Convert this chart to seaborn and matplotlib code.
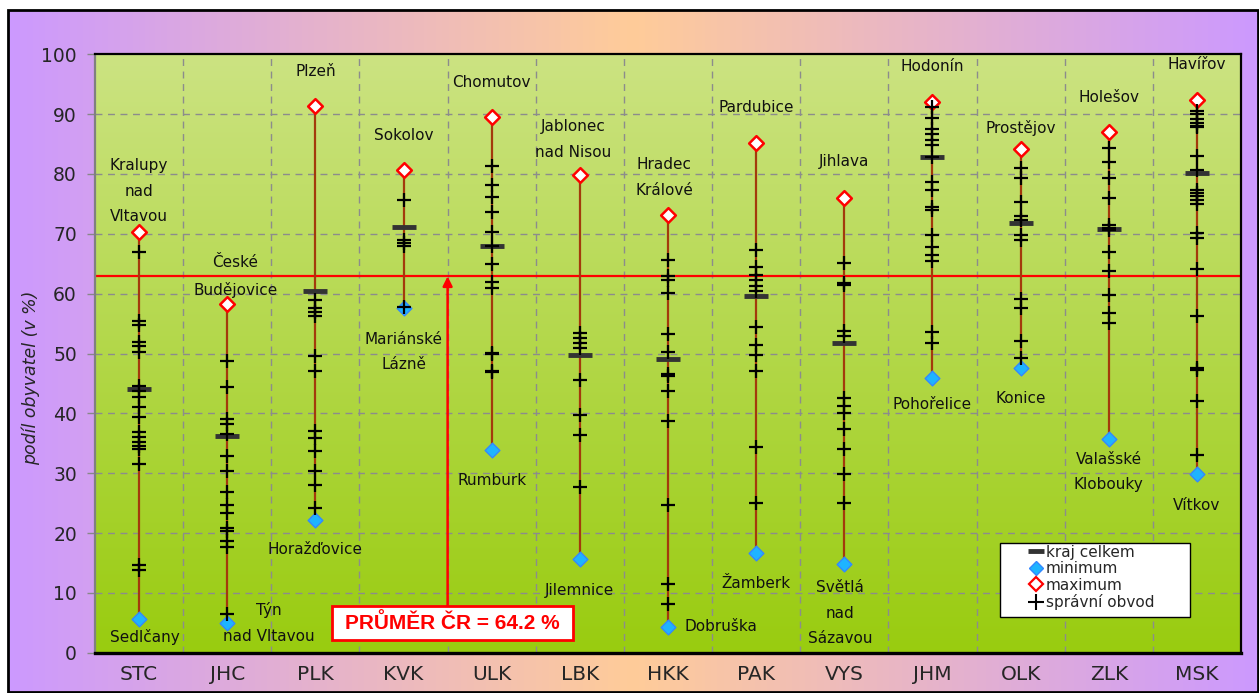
import numpy as np
import pandas as pd
import matplotlib
matplotlib.use('Agg')
import matplotlib.pyplot as plt
import seaborn as sns
from matplotlib.lines import Line2D
from matplotlib.patches import Rectangle

# --- data -------------------------------------------------------------
regions = ['STC', 'JHC', 'PLK', 'KVK', 'ULK', 'LBK', 'HKK', 'PAK', 'VYS', 'JHM', 'OLK', 'ZLK', 'MSK']
kraj_celkem = [44.0, 36.2, 60.4, 71.1, 67.9, 49.8, 49.1, 59.6, 51.7, 82.8, 71.8, 70.8, 80.1]
minimum = [5.6, 4.9, 22.2, 57.6, 33.9, 15.6, 4.3, 16.6, 14.8, 45.9, 47.5, 35.7, 29.8]
maximum = [70.3, 58.2, 91.3, 80.7, 89.5, 79.8, 73.1, 85.1, 76.0, 92.1, 84.1, 87.0, 92.4]
min_names = ['Sedlčany', 'Týn\nnad Vltavou', 'Horažďovice', 'Mariánské\nLázně', 'Rumburk', 'Jilemnice',
             'Dobruška', 'Žamberk', 'Světlá\nnad\nSázavou', 'Pohořelice', 'Konice',
             'Valašské\nKlobouky', 'Vítkov']
max_names = ['Kralupy\nnad\nVltavou', 'České\nBudějovice', 'Plzeň', 'Sokolov', 'Chomutov',
             'Jablonec\nnad Nisou', 'Hradec\nKrálové', 'Pardubice', 'Jihlava', 'Hodonín',
             'Prostějov', 'Holešov', 'Havířov']
prumer_cr = 62.9

# správní obvody
stc = [67.0, 55.5, 54.8, 52.0, 51.2, 50.3, 44.6, 43.8, 42.8, 41.1, 39.4, 36.9, 36.1, 35.2, 34.5, 34.0, 31.6, 14.6, 13.9]
jhc = [48.8, 44.4, 39.1, 38.3, 36.6, 32.8, 30.4, 26.8, 24.6, 23.3, 20.8, 20.3, 18.6, 17.6, 6.5]
plk = [59.0, 57.6, 56.9, 56.2, 49.6, 47.1, 37.1, 35.8, 33.7, 30.4, 28.0, 24.1]
kvk = [75.6, 68.9, 68.4, 68.0, 57.8]
ulk = [81.3, 78.2, 76.1, 73.7, 70.3, 67.9, 65.0, 61.9, 61.0, 50.1, 49.9, 47.1, 46.9]
lbk = [53.5, 52.6, 51.7, 51.0, 45.6, 39.7, 36.3, 27.7]
hkk = [65.6, 63.0, 62.2, 60.1, 53.3, 50.3, 46.6, 46.2, 43.7, 38.7, 24.6, 11.5, 8.2]
pak = [67.3, 64.5, 63.1, 62.2, 61.3, 60.4, 54.4, 51.5, 49.7, 47.0, 34.3, 25.0]
vys = [65.2, 61.8, 61.5, 53.7, 53.0, 42.5, 41.2, 40.0, 37.4, 34.1, 29.9, 25.1]
jhm = [91.2, 89.4, 87.6, 86.7, 85.7, 84.8, 82.9, 78.7, 77.4, 74.4, 74.0, 69.8, 67.8, 66.5, 65.4, 53.6, 51.8]
olk = [81.0, 79.3, 75.3, 72.9, 72.3, 69.8, 69.0, 59.1, 57.6, 52.1, 49.2]
zlk = [84.4, 82.0, 79.3, 76.0, 71.5, 70.9, 70.6, 66.9, 63.8, 59.8, 56.7, 55.1]
msk = [90.5, 90.0, 89.2, 88.6, 88.1, 87.8, 83.0, 80.7, 77.4, 76.8, 76.3, 75.7, 75.0, 70.1, 69.3,
       64.2, 56.2, 47.6, 47.2, 42.1, 33.1]
obvody = [stc, jhc, plk, kvk, ulk, lbk, hkk, pak, vys, jhm, olk, zlk, msk]

# label offsets in pixels (dx, dy)
max_off = [(0, 41), (8, 28), (0, 35), (0, 34), (0, 35), (-7, 36), (-4, 38), (0, 36), (0, 36),
           (0, 35), (0, 21), (0, 35), (0, 35)]
min_off = [(6, -18), (42, 0), (0, -30), (0, -44), (0, -31), (0, -31), (16, 0), (0, -30), (-4, -49),
           (0, -26), (0, -30), (0, -33), (0, -31)]

df = pd.DataFrame({'kraj': np.repeat(regions, [len(v) for v in obvody]),
                   'podil': np.concatenate(obvody)})

sns.set_style('white')
plt.rcParams['font.family'] = ['DejaVu Sans']

fig = plt.figure(figsize=(12.59, 6.93), dpi=100, facecolor='white')

# outer background (purple - peach - purple)
bg = fig.add_axes([0, 0, 1, 1], zorder=-10)
bg.set_xlim(0, 1259)
bg.set_ylim(693, 0)
bg.axis('off')
purple = np.array([0.80, 0.60, 1.00])
peach = np.array([1.00, 0.80, 0.60])
t = np.abs(np.linspace(-1, 1, 400))[None, :, None]
grad_h = peach * (1 - t) + purple * t
bg.imshow(grad_h, extent=(8, 1258, 693, 10), aspect='auto')
bg.add_patch(Rectangle((8, 10), 1250, 682, fill=False, ec='black', lw=2))

ax = fig.add_axes([95 / 1259, 1 - 652.7 / 693, 1146 / 1259, 598.4 / 693])

top = np.array([0.80, 0.89, 0.51])
bot = np.array([0.60, 0.80, 0.06])
s = np.linspace(0, 1, 300)[:, None, None]
grad_v = top * (1 - s) + bot * s
ax.imshow(grad_v, extent=(-0.5, 12.5, 0, 100), aspect='auto', origin='upper', zorder=0)

for y in range(10, 100, 10):
    ax.axhline(y, color='#8c8c8c', lw=1, dashes=(5, 4), zorder=1)
for x in np.arange(0.5, 12, 1):
    ax.axvline(x, color='#8c8c8c', lw=1, dashes=(5, 4), zorder=1)

ax.vlines(range(len(regions)), minimum, maximum, color='#A33A0C', lw=1.6, zorder=3)

sns.stripplot(x=regions, y=maximum, order=regions, jitter=False, marker='D', size=7.5,
              color='white', edgecolor='red', linewidth=1.8, ax=ax, zorder=4)
sns.stripplot(x=regions, y=minimum, order=regions, jitter=False, marker='D', size=7.5,
              color='#1EB4FF', edgecolor='#3388FF', linewidth=1.0, ax=ax, zorder=4)
sns.stripplot(x=regions, y=kraj_celkem, order=regions, jitter=False, marker='_', size=17,
              color='#333333', linewidth=3.5, ax=ax, zorder=5)
sns.stripplot(data=df, x='kraj', y='podil', order=regions, jitter=False, marker='+', size=10,
              color='black', linewidth=1.6, ax=ax, zorder=6)

# average line + arrow + box
ax.axhline(prumer_cr, color='#FF0000', lw=1.6, zorder=2)
ax.annotate('', xy=(3.5, prumer_cr), xytext=(3.5, 7.8),
            arrowprops=dict(arrowstyle='-|>', color='#FF0000', lw=1.8, mutation_scale=14,
                            shrinkA=0, shrinkB=0), zorder=7)
ax.add_patch(Rectangle((2.19, 2.12), 2.73, 5.68, fc='white', ec='#FF0000', lw=2, zorder=8))
ax.text(3.555, 4.95, 'PRŮMĚR ČR = 64.2 %', ha='center', va='center', color='#FF0000',
        fontweight='bold', fontsize=15, family=['Liberation Sans', 'DejaVu Sans'], zorder=9)

# place names
for i in range(len(regions)):
    dx, dy = max_off[i]
    ax.annotate(max_names[i], xy=(i, maximum[i]), xytext=(dx, dy), textcoords='offset pixels',
                ha='center', va='center', fontsize=11, linespacing=1.9, color='#111111', zorder=7)
    dx, dy = min_off[i]
    ha = 'left' if regions[i] == 'HKK' else 'center'
    ax.annotate(min_names[i], xy=(i, minimum[i]), xytext=(dx, dy), textcoords='offset pixels',
                ha=ha, va='center', fontsize=11, linespacing=1.9, color='#111111', zorder=7)

# legend
ax.add_patch(Rectangle((0.790, 0.0597), 0.1655, 0.1236, transform=ax.transAxes,
                       fc='white', ec='black', lw=1, zorder=9))
handles = [
    Line2D([], [], color='#333333', marker='_', ls='none', ms=12, mew=3.5),
    Line2D([], [], marker='D', ls='none', mfc='#1EB4FF', mec='#3388FF', ms=7),
    Line2D([], [], marker='D', ls='none', mfc='white', mec='red', mew=1.6, ms=7),
    Line2D([], [], marker='+', ls='none', color='black', ms=11, mew=1.5),
]
leg = ax.legend(handles, ['kraj celkem', 'minimum', 'maximum', 'správní obvod'],
                loc='upper left', bbox_to_anchor=(0.8159, 0.1805), frameon=False, fontsize=11,
                handlelength=0.8, handletextpad=0.25, labelspacing=0.1, borderpad=0,
                borderaxespad=0)
leg.set_zorder(10)

ax.set_xlim(-0.5, 12.5)
ax.set_ylim(0, 100)
ax.set_yticks(range(0, 101, 10))
ax.set_xlabel('')
ax.set_ylabel('podíl obyvatel (v %)', style='italic', fontsize=12.5)
ax.yaxis.set_label_coords(-0.048, 0.46)
ax.tick_params(axis='y', length=6, color='#888888', width=1, labelsize=13.5, pad=7, left=True)
ax.tick_params(axis='x', length=0, labelsize=14.5, pad=9)
for side in ['top', 'right', 'bottom', 'left']:
    ax.spines[side].set_visible(True)
    ax.spines[side].set_color('black')
    ax.spines[side].set_linewidth(1.6)
ax.spines['bottom'].set_linewidth(2.4)
ax.spines['left'].set_color('#808080')

fig.savefig('out.png', dpi=100, facecolor='white')
